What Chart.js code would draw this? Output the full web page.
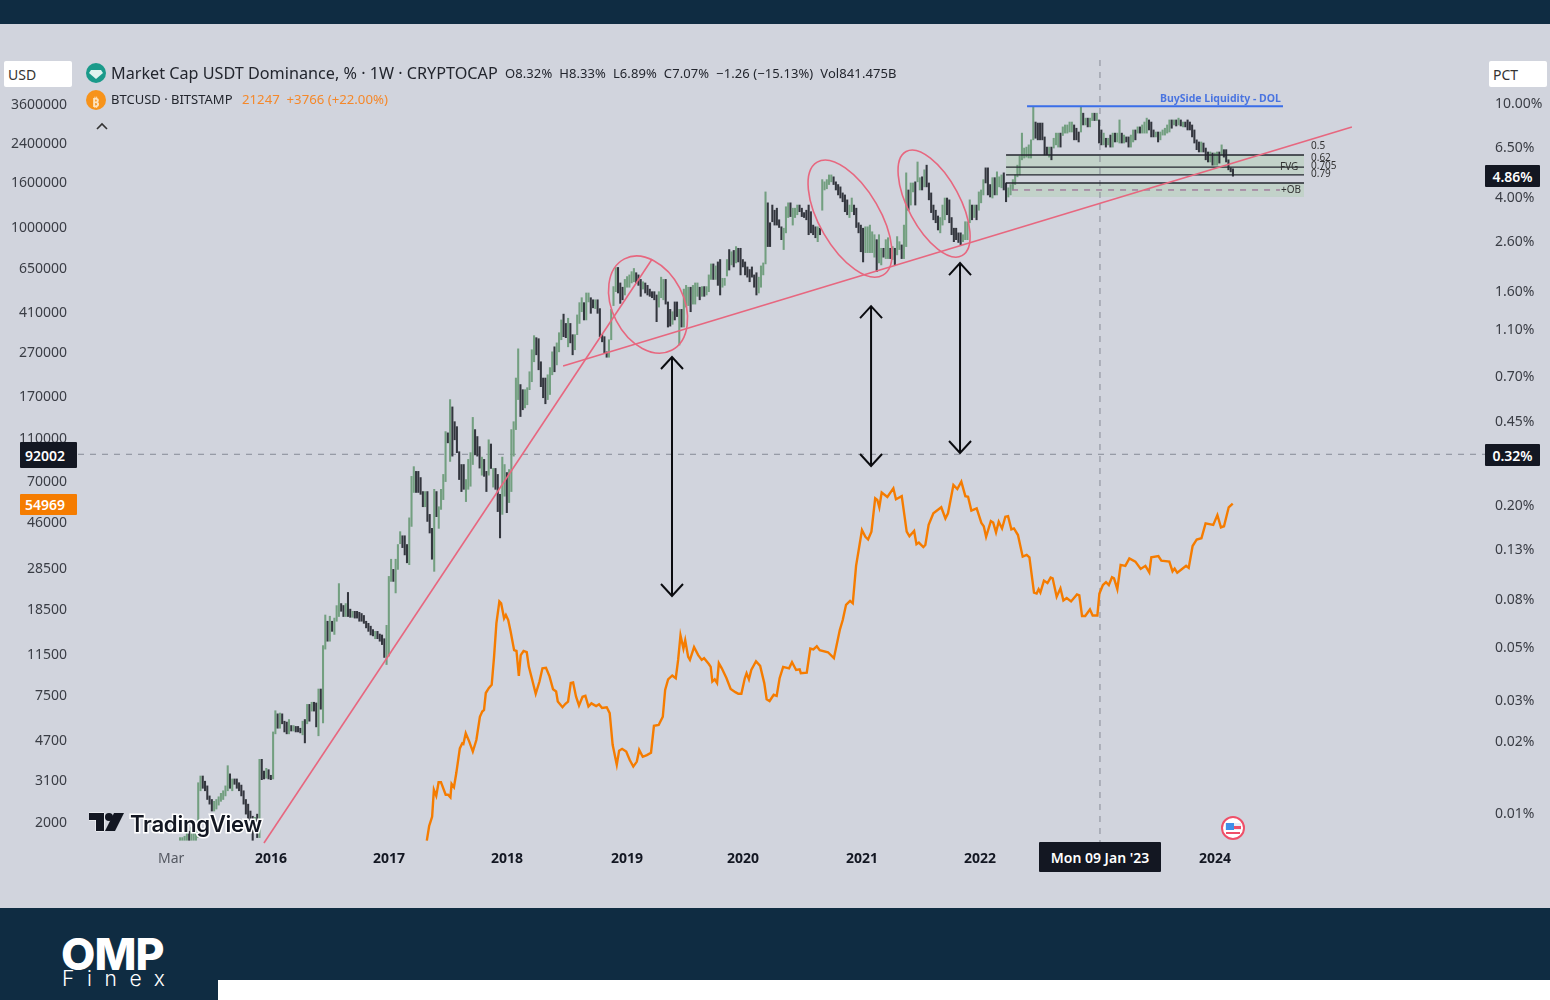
<!DOCTYPE html>
<html>
<head>
<meta charset="utf-8">
<title>USDT Dominance vs BTCUSD</title>
<script src="https://cdn.jsdelivr.net/npm/chart.js@4"></script>
<style>
  html, body { margin: 0; padding: 0; background: #d1d4dd; }
  #page { position: relative; width: 1550px; height: 1000px; overflow: hidden; background: #d1d4dd; font-family: "Noto Sans", sans-serif; }
  canvas { position: absolute; left: 0; top: 0; }
  .t { position: absolute; white-space: nowrap; line-height: 1; }
  .band { position: absolute; background: #0f2c42; }
  .badge { position: absolute; background: #131722; color: #fff; font-weight: 600; font-size: 14px; display: flex; align-items: center; justify-content: center; border-radius: 1px; }
  .unit { position: absolute; background: #fff; color: #333; font-size: 14px; display: flex; align-items: center; padding-left: 4px; box-sizing: border-box; border-radius: 2px; }
  .fib { font-size: 10px; color: #333; }
</style>
</head>
<body>
<div id="page">
  <canvas id="myChart" width="1550" height="1000"></canvas>

  <div class="band" style="left:0;top:0;width:1550px;height:24px"></div>
  <div class="band" style="left:0;top:908px;width:1550px;height:92px"></div>
  <div style="position:absolute;left:218px;top:980px;width:1332px;height:20px;background:#fff"></div>
  <div class="t" style="left:61px;top:927px;font:800 44.5px Inter,sans-serif;color:#fff;letter-spacing:-1px">OMP</div>
  <div class="t" style="left:62px;top:966px;font:300 21px Inter,sans-serif;color:#fff;letter-spacing:12.6px">Finex</div>

  <div class="unit" style="left:4px;top:61px;width:68px;height:26px">USD</div>
  <div class="unit" style="left:1489px;top:61px;width:58px;height:26px">PCT</div>

  <svg style="position:absolute;left:86px;top:63px" width="20" height="50">
    <circle cx="10" cy="10" r="10" fill="#1a9a8a"/>
    <path d="M5 7h10l2 3-7 6-7-6z" fill="#dff3ef"/>
    <circle cx="10" cy="37" r="10" fill="#f7931a"/>
  </svg>
  <div class="t" style="left:92px;top:93px;font:700 13px 'Noto Sans',sans-serif;color:#fde3bf">₿</div>
  <div class="t" style="left:111px;top:65px;font-size:16.2px;color:#23262e">Market Cap USDT Dominance, % · 1W · CRYPTOCAP</div>
  <div class="t" style="left:505px;top:67px;font-size:13px;color:#23262e;letter-spacing:.09px">O8.32%&nbsp; H8.33%&nbsp; L6.89%&nbsp; C7.07%&nbsp; −1.26 (−15.13%)&nbsp; Vol841.475B</div>
  <div class="t" style="left:111px;top:93px;font-size:13px;color:#23262e">BTCUSD · BITSTAMP</div>
  <div class="t" style="left:242px;top:93px;font-size:13.2px;color:#f5882a">21247&nbsp; +3766 (+22.00%)</div>
  <svg style="position:absolute;left:96px;top:122px" width="12" height="8"><path d="M1 7l5-5 5 5" fill="none" stroke="#333" stroke-width="1.6"/></svg>

  <div class="t" style="left:1160px;top:91px;font:700 10.5px 'Noto Sans',sans-serif;color:#4a74e0">BuySide Liquidity - DOL</div>
  <div class="t fib" style="left:1311px;top:140px">0.5</div>
  <div class="t fib" style="left:1311px;top:152px">0.62</div>
  <div class="t fib" style="left:1311px;top:160px">0.705</div>
  <div class="t fib" style="left:1311px;top:168px">0.79</div>
  <div class="t fib" style="left:1280px;top:161px">FVG</div>
  <div class="t fib" style="left:1281px;top:184px">+OB</div>

  <div class="badge" style="left:20px;top:442px;width:50px;height:26px;padding-right:7px">92002</div>
  <div class="badge" style="left:20px;top:494px;width:50px;height:21px;padding-right:7px;background:#f57c00">54969</div>
  <div class="badge" style="left:1485px;top:165px;width:55px;height:22px">4.86%</div>
  <div class="badge" style="left:1485px;top:444px;width:55px;height:22px">0.32%</div>
  <div class="badge" style="left:1039px;top:842px;width:122px;height:30px">Mon 09 Jan '23</div>

  <svg style="position:absolute;left:89px;top:812px" width="36" height="20">
    <path d="M0 1h15v18H7V8H0z" fill="#131722" stroke="#fff" stroke-width="1" paint-order="stroke"/>
    <circle cx="20" cy="5" r="4" fill="#131722"/>
    <path d="M25 1h10l-9 18H16z" fill="#131722"/>
  </svg>
  <div class="t" style="left:130px;top:810px;font:600 22.2px Inter,sans-serif;color:#131722;-webkit-text-stroke:3px #fff;paint-order:stroke fill;letter-spacing:-.3px">TradingView</div>

  <svg style="position:absolute;left:1221px;top:816px" width="24" height="24">
    <circle cx="12" cy="12" r="11" fill="#fff" stroke="#ef4f68" stroke-width="2"/>
    <path d="M4 7h16v7H4z" fill="#e8eef6"/>
    <path d="M5 7h8v7H5z" fill="#3f8fe8"/>
    <path d="M13 10h7v3h-7z" fill="#ef4f68"/>
    <path d="M5 16h14v2H5z" fill="#ef4f68"/>
  </svg>
</div>

<script>
// tick labels
const leftTicks = [3600000, 2400000, 1600000, 1000000, 650000, 410000, 270000, 170000, 110000, 70000, 46000, 28500, 18500, 11500, 7500, 4700, 3100, 2000];
const rightTicks = [10, 6.5, 4, 2.6, 1.6, 1.1, 0.7, 0.45, 0.2, 0.13, 0.08, 0.05, 0.03, 0.02, 0.01];
const xTickLabels = ["Mar", "2016", "2017", "2018", "2019", "2020", "2021", "2022", "2024"];
const xTickYears = [2015.153, 2016, 2017, 2018, 2019.017, 2020, 2021.008, 2022.008, 2024];

// USDT dominance weekly bars, [open, close] in %
const candleStartYear = 2015.229;
const candleBodies = [
  [.0076,.0078],[.0076,.0078],[.0076,.0079],[.0076,.0082],[.0083,.0076],[.0076,.0086],[.0076,.0084],[.0076,.0084],[.0078,.0133],[.0123,.0142],
  [.0142,.0126],[.0135,.0123],[.0129,.0113],[.0117,.0108],[.0113,.0101],[.0101,.0111],[.0103,.0113],[.0107,.0116],[.0111,.0120],[.0113,.0123],
  [.0117,.0129],[.0123,.0157],[.0145,.0126],[.0123,.0138],[.0138,.0131],[.0138,.0126],[.0133,.0123],[.0130,.0117],[.0123,.0108],[.0113,.0098],
  [.0108,.0094],[.0101,.0092],[.0096,.0076],[.0085,.0095],[.0098,.0078],[.0078,.0167],[.0167,.0137],[.0149,.0138],[.0139,.0153],[.0151,.0138],
  [.0143,.0137],[.0138,.0218],[.0214,.0268],[.0260,.0226],[.0226,.0262],[.0260,.0236],[.0242,.0218],[.0240,.0214],[.0214,.0246],[.0232,.0220],
  [.0220,.0232],[.0230,.0218],[.0230,.0218],[.0226,.0216],[.0212,.0242],[.0246,.0196],[.0236,.0285],[.0285,.0242],[.0267,.0291],[.0291,.0267],
  [.0289,.0229],[.0210,.0331],[.0331,.0272],[.0238,.0505],[.0488,.0680],[.0640,.0527],[.0527,.0672],[.0640,.0580],[.0563,.0660],[.0640,.0745],
  [.0670,.0923],[.0760,.0705],[.0746,.0670],[.0670,.0760],[.0847,.0670],[.0720,.0665],[.0665,.0705],[.0705,.0660],[.0705,.0660],[.0698,.0640],
  [.0690,.0640],[.0677,.0627],[.0640,.0600],[.0627,.0580],[.0610,.0560],[.0590,.0555],[.0540,.0580],[.0580,.0540],[.0565,.0527],[.0560,.0510],
  [.0540,.0450],[.0420,.0615],[.0456,.0990],[.0943,.117],[.106,.0943],[.0843,.117],[.106,.135],[.136,.153],[.147,.131],[.147,.122],
  [.135,.113],[.111,.175],[.161,.262],[.224,.288],[.275,.224],[.275,.224],[.259,.220],[.226,.195],[.195,.226],[.226,.169],
  [.181,.151],[.158,.117],[.104,.231],[.226,.177],[.158,.195],[.190,.231],[.209,.267],[.249,.405],[.400,.363],[.303,.553],
  [.515,.319],[.446,.374],[.425,.330],[.333,.254],[.294,.226],[.294,.231],[.205,.254],[.231,.309],[.238,.330],[.294,.465],
  [.413,.323],[.386,.319],[.350,.284],[.265,.316],[.309,.262],[.275,.226],[.265,.374],[.359,.283],[.236,.283],[.283,.231],
  [.267,.186],[.220,.144],[.181,.316],[.216,.294],[.272,.184],[.203,.280],[.226,.413],[.319,.446],[.413,.682],[.553,.906],
  [.640,.469],[.609,.501],[.510,.609],[.526,.621],[.609,.725],[.658,.898],[.799,1.03],[1.01,.855],[1.00,.739],[.799,.627],
  [.682,.563],[.682,.531],[.553,.704],[.581,.755],[.704,.880],[.924,.725],[.775,.960],[.880,1.06],[.990,1.20],[1.27,1.02],
  [1.16,1.01],[.924,1.22],[1.16,.960],[1.04,.855],[.898,1.04],[1.04,1.26],[1.16,1.42],[1.30,1.49],[1.42,1.20],[1.20,1.56],
  [1.43,1.56],[1.49,1.28],[1.46,1.35],[1.34,1.46],[1.46,1.28],[1.34,1.02],[1.04,.970],[1.02,.870],[.880,.835],[.835,.990],
  [.990,1.33],[1.38,1.66],[1.58,2.00],[2.00,1.56],[1.72,1.41],[1.65,1.46],[1.53,1.78],[1.65,1.83],[1.65,1.86],[1.72,1.92],
  [1.74,1.98],[1.90,1.72],[1.86,1.68],[1.78,1.51],[1.62,1.74],[1.72,1.56],[1.68,1.53],[1.62,1.51],[1.58,1.49],[1.58,1.46],
  [1.53,1.18],[1.36,1.58],[1.49,1.82],[1.46,1.78],[1.78,1.40],[1.43,1.12],[1.33,1.13],[1.15,1.30],[1.43,1.20],[1.43,1.24],
  [.940,1.33],[1.33,1.12],[1.12,1.62],[1.36,1.68],[1.38,1.65],[1.65,1.30],[1.40,1.68],[1.40,1.72],[1.51,1.72],[1.65,1.46],
  [1.51,1.66],[1.66,1.51],[1.53,1.66],[1.58,1.86],[1.78,2.07],[2.07,1.78],[1.78,2.03],[2.11,1.68],[2.16,1.53],[1.65,1.80],
  [1.68,1.80],[1.84,2.16],[2.38,1.95],[2.05,2.33],[2.36,2.01],[2.09,2.45],[2.41,2.11],[2.41,1.86],[2.16,2.01],[2.11,1.86],
  [2.01,1.82],[1.96,1.74],[2.01,1.82],[1.86,1.65],[1.90,1.53],[1.56,1.82],[1.65,2.03],[1.86,2.09],[2.07,4.17],[3.75,2.45],
  [3.09,2.45],[3.67,3.12],[3.49,3.02],[3.56,3.02],[3.18,2.95],[2.97,2.62],[2.38,2.93],[2.80,3.61],[3.25,3.75],[3.75,3.28],
  [3.02,3.56],[3.25,3.56],[3.34,3.67],[3.67,3.44],[3.56,3.28],[3.41,3.25],[3.49,3.18],[3.67,2.75],[3.44,2.80],[3.02,2.75],
  [2.97,2.67],[2.57,2.97],[2.93,2.75],[3.49,4.70],[4.25,4.60],[4.30,4.70],[4.48,4.92],[4.60,4.92],[4.83,4.48],[4.60,4.25],
  [4.48,4.05],[4.38,3.93],[4.13,3.79],[4.05,3.44],[3.86,3.34],[3.25,3.67],[3.44,3.93],[3.67,3.34],[3.56,2.95],[3.09,2.80],
  [3.02,2.33],[2.93,2.11],[2.31,2.97],[2.31,2.97],[2.31,3.02],[2.31,2.83],[2.21,2.75],[2.62,1.92],[2.09,2.75],[2.05,2.41],
  [2.41,2.21],[2.18,2.62],[2.18,2.67],[2.41,2.18],[2.16,2.45],[2.41,2.05],[2.26,2.70],[2.38,2.57],[2.49,2.18],[2.18,3.02],
  [2.45,5.02],[4.25,3.49],[3.67,4.55],[4.17,4.55],[4.60,3.67],[4.60,5.58],[4.25,4.79],[4.83,4.25],[4.38,5.17],[5.41,4.38],
  [4.55,3.86],[4.13,3.41],[3.67,3.18],[3.49,3.09],[3.30,2.88],[2.80,3.25],[3.02,3.67],[3.18,3.93],[3.93,3.34],[3.86,3.09],
  [3.25,2.75],[2.93,2.57],[2.93,2.62],[2.80,2.55],[2.80,2.49],[2.57,2.75],[2.62,3.12],[2.62,3.12],[3.09,3.86],[3.67,3.18],
  [3.25,3.67],[3.67,3.18],[3.49,4.17],[3.75,4.25],[4.05,4.70],[5.27,4.55],[5.27,4.05],[4.48,3.97],[3.93,4.79],[4.79,4.05],
  [4.05,5.07],[4.38,4.83],[4.34,4.92],[5.02,4.25],[4.55,3.79],[3.97,4.34],[4.05,4.48],[4.25,4.70],[4.48,4.92],[4.83,5.41],
  [4.92,5.90],[5.70,7.39],[5.80,6.39],[5.85,6.45],[5.80,6.59],[5.80,6.92],[6.92,9.52],[8.23,7.03],[8.15,6.92],[8.15,6.92],
  [8.15,6.92],[7.12,5.98],[6.45,5.98],[5.85,6.45],[6.45,5.70],[6.39,7.03],[6.59,7.39],[6.45,7.39],[7.39,6.45],[7.22,7.85],
  [7.39,8.00],[7.39,8.00],[7.47,8.23],[7.47,8.23],[8.00,6.92],[7.75,6.92],[7.47,6.78],[7.47,9.52],[8.97,8.00],[8.00,8.55],
  [8.55,7.85],[7.85,8.55],[8.35,8.97],[8.97,8.35],[8.35,8.97],[8.40,6.71],[7.62,6.59],[6.59,7.39],[7.03,6.45],[6.59,7.03],
  [7.25,6.45],[6.45,7.39],[7.39,6.78],[6.78,7.39],[6.71,8.40],[7.39,6.71],[6.71,7.25],[7.12,6.78],[7.12,6.45],[6.45,7.25],
  [6.78,7.62],[7.62,6.92],[7.39,7.85],[7.85,7.39],[7.39,8.00],[7.39,8.23],[7.39,8.55],[8.40,7.62],[8.23,7.12],[7.62,7.12],
  [7.12,7.47],[7.47,6.78],[6.92,7.47],[7.25,7.62],[7.25,7.75],[7.39,8.00],[7.47,8.40],[8.40,7.75],[8.00,8.40],[8.40,7.92],
  [8.00,8.55],[8.40,7.92],[7.85,8.23],[8.23,7.85],[8.40,7.62],[8.23,7.62],[8.00,7.12],[7.62,6.71],[6.92,6.29],[6.78,6.15],
  [6.15,6.78],[6.71,6.15],[6.39,5.70],[6.15,5.58],[5.58,6.15],[6.09,5.41],[5.41,6.09],[5.41,6.15],[6.15,5.52],[5.98,6.59],
  [6.29,5.85],[6.29,5.58],[5.70,5.17],[5.27,5.07],[5.22,4.86]
];

// BTCUSD closes
const btcYears = [
  2017.32,2017.34,2017.365,2017.38,2017.40,2017.42,2017.44,2017.48,2017.50,2017.52,2017.53,2017.55,2017.57,2017.60,2017.62,2017.63,2017.65,2017.68,2017.71,2017.74,
  2017.77,2017.79,2017.805,2017.82,2017.845,2017.87,2017.89,2017.91,2017.935,2017.95,2017.975,2017.99,2018.01,2018.03,2018.06,2018.08,2018.10,2018.116,2018.14,2018.167,
  2018.185,2018.21,2018.243,2018.275,2018.30,2018.33,2018.36,2018.39,2018.416,2018.43,2018.47,2018.495,2018.517,2018.54,2018.56,2018.585,2018.61,2018.64,2018.664,2018.69,
  2018.715,2018.755,2018.78,2018.805,2018.845,2018.87,2018.895,2018.93,2018.95,2018.975,2019.01,2019.04,2019.07,2019.10,2019.12,2019.15,2019.185,2019.22,2019.245,2019.285,
  2019.32,2019.34,2019.365,2019.40,2019.43,2019.45,2019.47,2019.495,2019.51,2019.535,2019.55,2019.585,2019.62,2019.65,2019.67,2019.71,2019.726,2019.74,2019.76,2019.78,
  2019.795,2019.82,2019.86,2019.895,2019.935,2019.96,2019.986,2020.015,2020.03,2020.05,2020.07,2020.11,2020.145,2020.18,2020.20,2020.225,2020.26,2020.285,2020.31,2020.34,
  2020.39,2020.415,2020.45,2020.48,2020.49,2020.54,2020.57,2020.596,2020.625,2020.65,2020.72,2020.77,2020.82,2020.845,2020.873,2020.907,2020.93,2020.958,2021.008,2021.037,
  2021.06,2021.088,2021.12,2021.138,2021.155,2021.175,2021.223,2021.274,2021.296,2021.345,2021.387,2021.41,2021.45,2021.47,2021.49,2021.528,2021.545,2021.573,2021.613,2021.68,
  2021.715,2021.737,2021.783,2021.816,2021.85,2021.884,2021.907,2021.935,2021.98,2022.02,2022.04,2022.06,2022.10,2022.12,2022.144,2022.167,2022.195,2022.223,2022.246,2022.274,
  2022.296,2022.33,2022.37,2022.404,2022.427,2022.466,2022.488,2022.505,2022.52,2022.55,2022.58,2022.607,2022.624,2022.658,2022.69,2022.715,2022.743,2022.78,2022.83,2022.85,
  2022.873,2022.90,2022.94,2022.963,2023.003,2023.02,2023.05,2023.076,2023.10,2023.127,2023.144,2023.172,2023.20,2023.24,2023.274,2023.325,2023.37,2023.41,2023.443,2023.46,
  2023.52,2023.545,2023.613,2023.64,2023.658,2023.68,2023.755,2023.777,2023.81,2023.845,2023.885,2023.92,2023.985,2024.02,2024.05,2024.076,2024.116,2024.15
];
const btcPrices = [
  1630,1900,2090,2770,2600,3000,3000,2630,2630,2560,2950,2850,3300,4270,4500,4470,5000,4580,4130,4660,
  5940,6270,6380,7610,8000,8290,11100,15800,19800,19400,16600,17200,16300,14500,11900,11800,9100,11300,11800,11650,
  10000,8880,7550,8580,9850,9900,9050,7910,7730,6960,6560,6800,6960,8440,8490,7320,6680,7320,7390,6610,
  6830,6640,6770,6510,6560,6170,4430,3600,4170,4250,4130,3780,3530,3720,4200,3910,3980,4080,5400,5450,
  5940,7860,8780,9140,8880,10750,13900,12100,13200,11100,10750,12300,11300,10750,10950,10300,10000,8580,8780,8440,
  10400,9850,8880,7940,7680,7550,7550,8880,9350,8780,9680,10600,10100,8440,7130,7000,7470,7390,8880,10000,
  9850,10500,9680,9740,9350,9420,12100,12000,12400,11900,11650,10950,14700,16300,19100,19900,19400,28700,41700,38900,
  37800,41000,58100,57100,52900,61700,58900,64500,57500,59400,41000,39100,41300,36000,36600,34900,35700,44000,49700,52900,
  47100,49700,66800,64000,69100,59400,59000,51100,52300,44900,43400,38900,45800,45100,40700,45500,42400,47900,48200,42000,
  42400,39600,31600,32200,31400,21700,21500,22500,21700,24600,24000,25400,25200,20800,22700,20000,20500,19800,21300,21100,
  17000,17000,18200,17100,17100,21500,23500,24200,23500,25500,25200,22500,29000,28700,31000,30000,27800,28700,26800,31400,
  31800,30300,30000,27100,27900,26700,28700,28100,35300,37800,38300,44700,44000,48800,42900,43400,52900,54969
];

// drawings on top of the chart: [year, usd, year, usd]
const trendLines = [
  [2015.94, 1590, 2019.23, 706000],
  [2018.475, 231000, 2025.16, 2800000]
];
const arrows = [
  [2019.398, 254000, 20950],
  [2021.085, 432000, 81400],
  [2021.839, 677000, 93200]
];
const ellipses = [
  [2019.195, 439000, 51.4, 35.7, 62.7],
  [2020.907, 1077000, 65.4, 30.2, 59.8],
  [2021.619, 1260000, 59.1, 25.8, 61.8]
];
const crossYear = 2023.025;
const crossPrice = 92002;
const buySideLevel = [2022.407, 2024.576, 9.6];
const fibLevels = [5.97, 5.31, 4.92, 4.55];
const fibRange = [2022.229, 2024.754];
const fvgZone = [5.97, 4.92];
const obZone = [4.55, 3.97];
const obMid = 4.25;

const GREEN = "#739f80";
const DARK = "#33363e";
const RED = "#e7677f";

const annotations = {
  id: "annotations",
  beforeDatasetsDraw(chart) {
    const { ctx, scales } = chart;
    const x = scales.x, r = scales.yRight;
    ctx.save();
    ctx.fillStyle = "#c2d2c9";
    const x0 = x.getPixelForValue(fibRange[0]), x1 = x.getPixelForValue(fibRange[1]);
    const fy0 = r.getPixelForValue(fvgZone[0]), fy1 = r.getPixelForValue(fvgZone[1]);
    ctx.fillRect(x0, fy0, x1 - x0, fy1 - fy0);
    const oy0 = r.getPixelForValue(obZone[0]), oy1 = r.getPixelForValue(obZone[1]);
    ctx.fillRect(x0 + 6, oy0, x1 - x0 - 6, oy1 - oy0);
    // crosshair
    ctx.strokeStyle = "#878b96";
    ctx.lineWidth = 1;
    ctx.setLineDash([6, 6]);
    const cx = x.getPixelForValue(crossYear), cy = scales.yLeft.getPixelForValue(crossPrice);
    ctx.beginPath();
    ctx.moveTo(cx, chart.chartArea.top);
    ctx.lineTo(cx, chart.chartArea.bottom);
    ctx.moveTo(chart.chartArea.left, cy);
    ctx.lineTo(chart.chartArea.right, cy);
    ctx.stroke();
    ctx.restore();
  },
  afterDatasetsDraw(chart) {
    const { ctx, scales } = chart;
    const x = scales.x, l = scales.yLeft, r = scales.yRight;
    ctx.save();

    // fib levels
    ctx.strokeStyle = "#23262e";
    ctx.lineWidth = 1.4;
    fibLevels.forEach(v => {
      ctx.beginPath();
      ctx.moveTo(x.getPixelForValue(fibRange[0]), r.getPixelForValue(v));
      ctx.lineTo(x.getPixelForValue(fibRange[1]), r.getPixelForValue(v));
      ctx.stroke();
    });
    ctx.strokeStyle = "#a0799a";
    ctx.setLineDash([6, 6]);
    ctx.beginPath();
    ctx.moveTo(x.getPixelForValue(fibRange[0]) + 6, r.getPixelForValue(obMid));
    ctx.lineTo(x.getPixelForValue(2024.55), r.getPixelForValue(obMid));
    ctx.stroke();
    ctx.setLineDash([]);

    // buyside line
    ctx.strokeStyle = "#3a6ee8";
    ctx.lineWidth = 2;
    ctx.beginPath();
    ctx.moveTo(x.getPixelForValue(buySideLevel[0]), r.getPixelForValue(buySideLevel[2]));
    ctx.lineTo(x.getPixelForValue(buySideLevel[1]), r.getPixelForValue(buySideLevel[2]));
    ctx.stroke();

    // trend lines and ellipses
    ctx.strokeStyle = RED;
    ctx.lineWidth = 1.6;
    trendLines.forEach(t => {
      ctx.beginPath();
      ctx.moveTo(x.getPixelForValue(t[0]), l.getPixelForValue(t[1]));
      ctx.lineTo(x.getPixelForValue(t[2]), l.getPixelForValue(t[3]));
      ctx.stroke();
    });
    ellipses.forEach(e => {
      ctx.beginPath();
      ctx.ellipse(x.getPixelForValue(e[0]), l.getPixelForValue(e[1]), e[2], e[3], e[4] * Math.PI / 180, 0, Math.PI * 2);
      ctx.stroke();
    });

    // double arrows
    ctx.strokeStyle = "#0b0c10";
    ctx.lineWidth = 2;
    arrows.forEach(a => {
      const ax = x.getPixelForValue(a[0]), top = l.getPixelForValue(a[1]), bot = l.getPixelForValue(a[2]);
      ctx.beginPath();
      ctx.moveTo(ax, top);
      ctx.lineTo(ax, bot);
      ctx.moveTo(ax - 11, top + 12);
      ctx.lineTo(ax, top);
      ctx.lineTo(ax + 11, top + 12);
      ctx.moveTo(ax - 11, bot - 12);
      ctx.lineTo(ax, bot);
      ctx.lineTo(ax + 11, bot - 12);
      ctx.stroke();
    });
    ctx.restore();
  }
};

function fixedTicks(list) {
  return scale => {
    scale.ticks = list.map(v => ({ value: v }));
  };
}

new Chart(document.getElementById("myChart"), {
  type: "bar",
  data: {
    datasets: [
      {
        type: "line",
        label: "BTCUSD",
        data: btcYears.map((y, i) => ({ x: y, y: btcPrices[i] })),
        yAxisID: "yLeft",
        borderColor: "#f57c00",
        borderWidth: 2.4,
        pointRadius: 0,
        tension: 0,
        order: 0
      },
      {
        label: "USDT Dominance",
        data: candleBodies.map((b, i) => ({ x: candleStartYear + i / 52, y: b })),
        yAxisID: "yRight",
        barThickness: 1.4,
        minBarLength: 1,
        backgroundColor: c => (c.raw && c.raw.y[0] > c.raw.y[1] ? DARK : GREEN),
        order: 1
      }
    ]
  },
  options: {
    responsive: false,
    animation: false,
    layout: { padding: { top: 60 } },
    plugins: { legend: { display: false }, tooltip: { enabled: false } },
    scales: {
      x: {
        type: "linear",
        offset: false,
        min: 2014.364,
        max: 2026.288,
        grid: { display: false, drawTicks: false },
        border: { display: false },
        afterFit: s => { s.height = 157; },
        afterBuildTicks: fixedTicks(xTickYears),
        ticks: {
          autoSkip: false,
          maxRotation: 0,
          padding: 8,
          color: c => (c.index === 0 ? "#555962" : "#131722"),
          font: c => ({ family: "'Noto Sans', sans-serif", size: 14, weight: c.index === 0 ? "400" : "700" }),
          callback: (v, i) => xTickLabels[i]
        }
      },
      yLeft: {
        type: "logarithmic",
        axis: "y",
        position: "left",
        min: 1590,
        max: 5640000,
        grid: { display: false, drawTicks: false },
        border: { display: false },
        afterFit: s => { s.width = 78; },
        afterBuildTicks: fixedTicks(leftTicks),
        ticks: {
          autoSkip: false,
          padding: 11,
          labelOffset: 2,
          color: "#3a3d45",
          font: { family: "'Noto Sans', sans-serif", size: 14 },
          callback: v => String(v)
        }
      },
      yRight: {
        type: "logarithmic",
        axis: "y",
        position: "right",
        min: 0.0074,
        max: 15.05,
        grid: { display: false, drawTicks: false },
        border: { display: false },
        afterFit: s => { s.width = 65; },
        afterBuildTicks: fixedTicks(rightTicks),
        ticks: {
          autoSkip: false,
          padding: 10,
          labelOffset: 1.5,
          color: "#3a3d45",
          font: { family: "'Noto Sans', sans-serif", size: 14 },
          callback: v => v.toFixed(2) + "%"
        }
      }
    }
  },
  plugins: [annotations]
});
</script>
</body>
</html>
